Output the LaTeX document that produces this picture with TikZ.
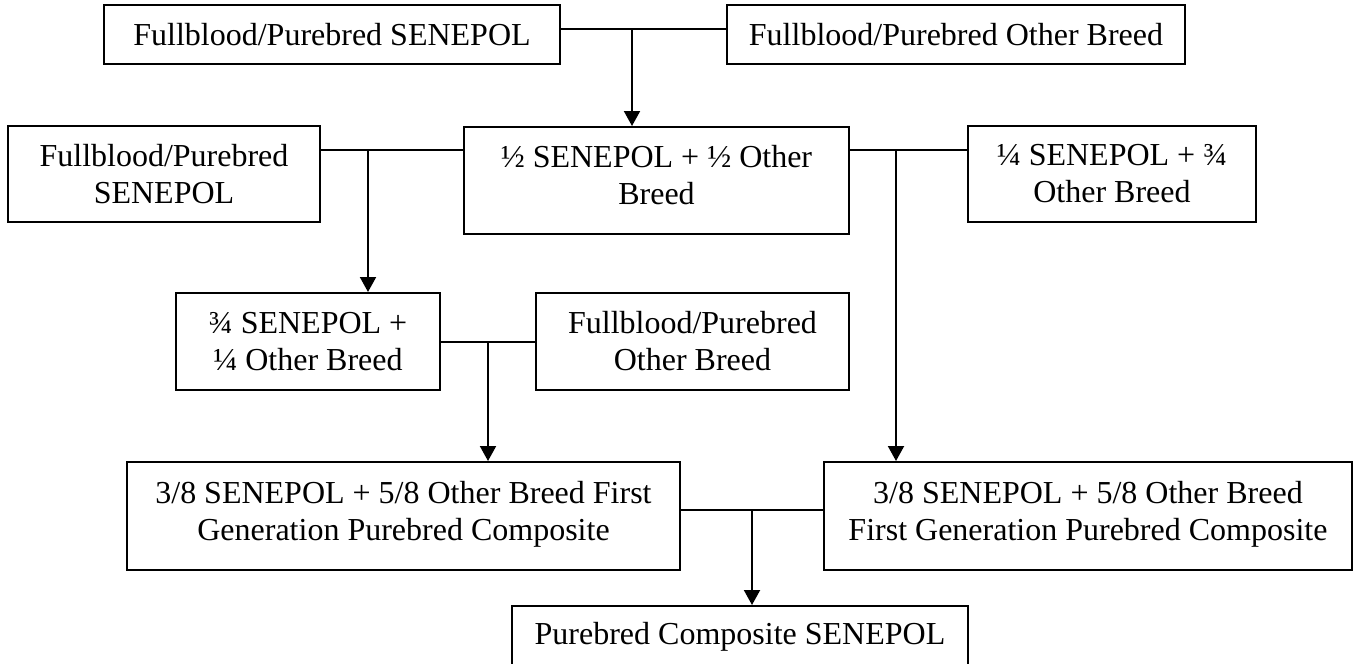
\documentclass[tikz,border=0pt]{standalone}
\usepackage{fontspec}
\setmainfont{Liberation Serif}
\usepackage{tikz}
\usetikzlibrary{arrows.meta,positioning}
\tikzstyle{breedbox} = [draw, line width=2pt, inner sep=0pt, align=center, font=\fontsize{32}{37}\selectfont]
\tikzstyle{topbox} = [breedbox, align=flush center, anchor=north, text height=40pt, text depth=67pt]
\tikzstyle{link} = [line width=2pt]
\tikzstyle{linkarrow} = [line width=2pt, -{Triangle[length=15pt,width=16pt]}]

\begin{document}
\begin{tikzpicture}[x=1pt, y=-1pt]
\useasboundingbox (0,0) rectangle (1353,664);

% first cross
\node[breedbox, minimum width=456pt, minimum height=59pt] (fbsen) at (332,34.5) {Fullblood/Purebred SENEPOL};
\node[breedbox, minimum width=458pt, minimum height=59pt] (fbother) at (956,34.5) {Fullblood/Purebred Other Breed};

% second row
\node[breedbox, minimum width=312pt, minimum height=96pt] (fbsentwo) at (164,174) {Fullblood/Purebred\\SENEPOL};
\node[topbox, text width=385pt] (half) at (656.5,126) {½ SENEPOL + ½ Other\\Breed};
\node[breedbox, minimum width=288pt, minimum height=96pt] (quarter) at (1112,174) {¼ SENEPOL + ¾\\Other Breed};

% third row
\node[breedbox, minimum width=264pt, minimum height=97pt] (threeq) at (308,341.5) {¾ SENEPOL +\\¼ Other Breed};
\node[breedbox, minimum width=313pt, minimum height=97pt] (fbothertwo) at (692.5,341.5) {Fullblood/Purebred\\Other Breed};

% composites
\node[topbox, text width=553pt, text height=41pt, text depth=67pt] (compa) at (403.5,461) {3/8 SENEPOL + 5/8 Other Breed First\\Generation Purebred Composite};
\node[topbox, text width=528pt, text height=41pt, text depth=67pt] (compb) at (1088,461) {3/8 SENEPOL + 5/8 Other Breed\\First Generation Purebred Composite};
\node[breedbox, minimum width=456pt, minimum height=61pt] (final) at (740,636.5) {Purebred Composite SENEPOL};

% junctions
\coordinate (ja) at (632,29);
\coordinate (jb) at (368,150);
\coordinate (jc) at (896,150);
\coordinate (jd) at (488,342);
\coordinate (je) at (752,510);

\draw[link] (fbsen.east |- ja) -- (fbother.west |- ja);
\draw[linkarrow] (ja) -- (ja |- half.north);

\draw[link] (fbsentwo.east |- jb) -- (half.west |- jb);
\draw[linkarrow] (jb) -- (jb |- threeq.north);

\draw[link] (half.east |- jc) -- (quarter.west |- jc);
\draw[linkarrow] (jc) -- (jc |- compb.north);

\draw[link] (threeq.east |- jd) -- (fbothertwo.west |- jd);
\draw[linkarrow] (jd) -- (jd |- compa.north);

\draw[link] (compa.east |- je) -- (compb.west |- je);
\draw[linkarrow] (je) -- (je |- final.north);
\end{tikzpicture}
\end{document}
